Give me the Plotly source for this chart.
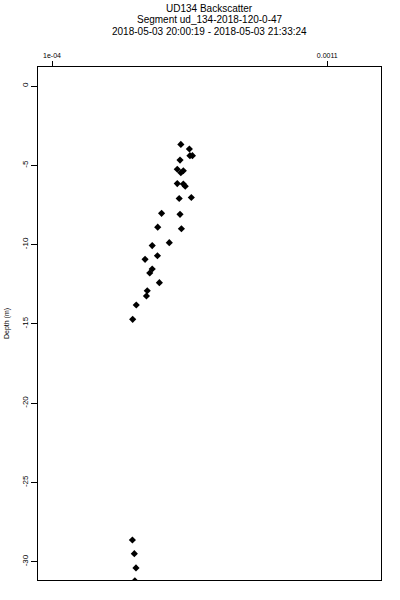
import plotly.graph_objects as go

# Data
backscatter = [5.68e-4, 5.99e-4, 6.01e-4, 6.10e-4, 5.65e-4, 5.55e-4, 5.77e-4, 5.68e-4,
               5.55e-4, 5.77e-4, 5.84e-4, 5.62e-4, 6.06e-4, 4.98e-4, 5.65e-4, 4.84e-4,
               5.70e-4, 5.26e-4, 4.64e-4, 4.83e-4, 4.38e-4, 4.64e-4, 4.55e-4, 4.90e-4,
               4.46e-4, 4.43e-4, 4.06e-4, 3.93e-4, 3.92e-4, 3.99e-4, 4.05e-4, 4.01e-4]
depth = [-3.68, -3.97, -4.39, -4.39, -4.67, -5.25, -5.34, -5.47,
         -6.15, -6.18, -6.32, -7.09, -7.03, -8.03, -8.09, -8.90,
         -9.00, -9.88, -10.06, -10.70, -10.93, -11.54, -11.79, -12.40,
         -12.91, -13.24, -13.81, -14.71, -28.63, -29.49, -30.39, -31.2]

x_tick_vals = [1e-4, 0.0011]
x_tick_text = ["1e-04", "0.0011"]
y_tick_vals = [0, -5, -10, -15, -20, -25, -30]
y_tick_text = ["0", "-5", "-10", "-15", "-20", "-25", "-30"]

title_lines = ["UD134 Backscatter",
               "Segment ud_134-2018-120-0-47",
               "2018-05-03 20:00:19 - 2018-05-03 21:33:24"]

FONT = "Liberation Sans, Arial, sans-serif"

fig = go.Figure()
fig.add_trace(go.Scatter(
    x=backscatter, y=depth, mode="markers",
    marker=dict(symbol="diamond", size=5.5, color="black", line=dict(width=0)),
    cliponaxis=True, showlegend=False, hoverinfo="skip",
))

plot_top, plot_bottom = 67, 580
ph = plot_bottom - plot_top
for line, py in zip(title_lines, [8, 19.5, 31]):
    fig.add_annotation(
        text=line, xref="paper", yref="paper", x=0.5, y=(plot_bottom - py) / ph,
        xanchor="center", yanchor="middle", showarrow=False,
        font=dict(family=FONT, size=10, color="black"),
    )

fig.add_annotation(
    text="Depth (m)", xref="paper", yref="paper",
    x=(7 - 38) / (381 - 38), y=(plot_bottom - 324) / ph,
    xanchor="center", yanchor="middle", textangle=-90, showarrow=False,
    font=dict(family=FONT, size=7, color="black"),
)

fig.update_layout(
    width=400, height=600,
    margin=dict(l=38, r=19, t=plot_top, b=600 - plot_bottom, autoexpand=False),
    paper_bgcolor="white", plot_bgcolor="white",
    font=dict(family=FONT, color="black"),
    xaxis=dict(
        side="top", range=[4.915e-5, 1.295e-3], automargin=False,
        tickvals=x_tick_vals, ticktext=x_tick_text,
        ticks="outside", ticklen=5, tickcolor="black", tickwidth=1,
        tickfont=dict(size=7, family=FONT),
        showline=True, linecolor="black", linewidth=1, mirror=True,
        showgrid=False, zeroline=False,
    ),
    yaxis=dict(
        range=[-31.15, 1.2], automargin=False,
        tickvals=y_tick_vals, ticktext=y_tick_text,
        ticks="outside", ticklen=6, tickcolor="black", tickwidth=1,
        tickangle=-90, tickfont=dict(size=8, family=FONT),
        showline=True, linecolor="black", linewidth=1, mirror=True,
        showgrid=False, zeroline=False,
    ),
)

fig.write_html("out.html", config={"displayModeBar": False},
               post_script="document.body.style.margin='0';document.body.style.overflow='hidden';")
